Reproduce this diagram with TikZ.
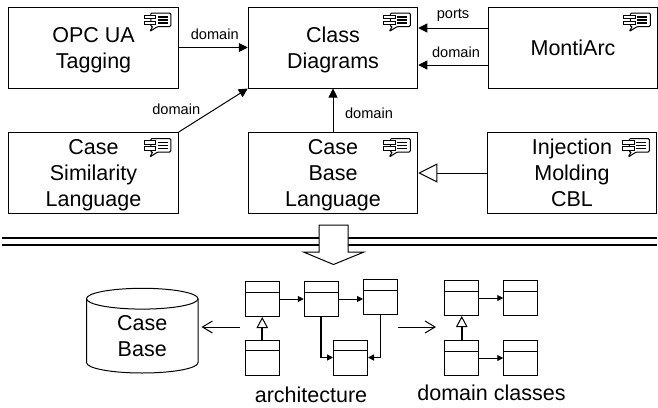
\documentclass[tikz,border=0pt]{standalone}
\usepackage{fontspec}
\setmainfont{Liberation Sans}
\usetikzlibrary{arrows.meta, positioning}
\tikzstyle{langbox} = [rectangle, draw = black, line width=1pt, minimum width = 169.5pt, minimum height = 81pt, inner sep=0pt, align=center, text depth=-4pt, font=\fontsize{21.5}{26}\selectfont]
\tikzstyle{umlbox} = [rectangle, draw = black, line width=1pt, minimum width = 34pt, minimum height = 35pt, inner sep=0pt, path picture={\draw[line width=1pt] ([yshift=-10.5pt]path picture bounding box.north west) -- ([yshift=-10.5pt]path picture bounding box.north east);}]
\tikzstyle{caption} = [inner sep=0pt, align=center, font=\fontsize{21.5}{26}\selectfont]
\tikzstyle{edgelabel} = [inner sep=0pt, font=\fontsize{14.6}{17}\selectfont]
\tikzstyle{arrow} = [-{Stealth[length=9pt,width=9pt,inset=0pt]}, line width=1pt]
\tikzstyle{smallarrow} = [-{Stealth[length=6pt,width=6pt,inset=0pt]}, line width=1pt]
\tikzstyle{boldarrow} = [-{Stealth[length=6pt,width=6pt,inset=0pt]}, line width=1.8pt]
\tikzstyle{inherit} = [-{Triangle[open,length=19pt,width=19pt,fill=white]}, line width=1pt]
\tikzstyle{smallinherit} = [-{Triangle[open,length=11pt,width=11.5pt,fill=white,line width=1pt]}, line width=1.8pt]
\tikzstyle{openarrow} = [-{Straight Barb[length=10pt,width=12pt]}, line width=1pt]
\tikzstyle{rule} = [line width=1.9pt]
\tikzset{noteicon/.pic={
  \draw[line width=1pt, rounded corners=1.2pt, fill=white] (-28,6.5) -- (-8,6.5) -- (-8,20) -- (-21,20) -- (-29,25) -- (-26,20) -- (-28,20) -- cycle;
  \draw[line width=1pt, fill=white] (-34.5,8.5) rectangle (-23,12);
  \draw[line width=1pt, fill=white] (-34.5,14.5) rectangle (-23,18);
  \draw[line width=1.6pt] (-21,10.5) -- (-11,10.5);
  \draw[line width=1.6pt] (-21,13.5) -- (-11,13.5);
  \draw[line width=1.6pt] (-21,16.5) -- (-11,16.5);
}}
\begin{document}
\begin{tikzpicture}[x=1pt, y=-1pt]
  \useasboundingbox (0,0) rectangle (658,407);

  \node[langbox] (opc) at (93.5,47.5) {OPC UA\\Tagging};
  \node[langbox] (class) at (333,47.5) {Class\\Diagrams};
  \node[langbox] (monti) at (573,47.5) {MontiArc};
  \node[langbox] (sim) at (93.5,173) {Case\\Similarity\\Language};
  \node[langbox] (base) at (333,173) {Case\\Base\\Language};
  \node[langbox] (molding) at (572,173) {Injection\\Molding\\CBL};

  \pic at (opc.north east) {noteicon};
  \pic at (class.north east) {noteicon};
  \pic at (monti.north east) {noteicon};
  \pic at (sim.north east) {noteicon};
  \pic at (base.north east) {noteicon};
  \pic at (molding.north east) {noteicon};

  \draw[arrow](opc) -- node[edgelabel,xshift=1.5pt,yshift=13.5pt]{domain}(class);
  \draw[arrow](sim.north east) -- node[edgelabel,xshift=-37pt,yshift=0.5pt]{domain}(class.south west);
  \draw[arrow](base) -- node[edgelabel,xshift=36pt,yshift=-3.5pt]{domain}(class);
  \draw[arrow]([yshift=19.5pt]monti.west) -- node[edgelabel,yshift=13pt]{ports}([yshift=19.5pt]class.east);
  \draw[arrow]([yshift=-17.5pt]monti.west) -- node[edgelabel,xshift=3pt,yshift=13pt]{domain}([yshift=-17.5pt]class.east);
  \draw[inherit](molding) -- (base);

  \coordinate (rule1l) at (2,238);
  \coordinate (rule1r) at (657,238);
  \coordinate (rule2l) at (2,245);
  \coordinate (rule2r) at (657,245);
  \draw[rule](rule1l) -- (rule1r);
  \draw[rule](rule2l) -- (rule2r);
  \draw[line width=1pt, fill=white] (319,225) -- (348,225) -- (348,252) -- (364,252) -- (333.5,264.5) -- (303.5,252) -- (319,252) -- cycle;

  \draw[line width=1pt] (142.25,298.7) ellipse [x radius=55.75pt, y radius=10.4pt];
  \draw[line width=1pt] (86.5,298.7) -- (86.5,362.6) arc [start angle=180, end angle=360, x radius=55.75pt, y radius=10.4pt] -- (198,298.7);
  \node[caption] (cb) at (142.25,336.5) {Case\\Base};

  \node[umlbox] (arch1) at (262.25,299) {};
  \node[umlbox] (arch2) at (321.25,299) {};
  \node[umlbox] (arch3) at (380.5,297) {};
  \node[umlbox] (arch4) at (262.25,357.5) {};
  \node[umlbox] (arch5) at (350.5,357.5) {};

  \node[umlbox] (dom1) at (461.75,298) {};
  \node[umlbox] (dom2) at (520.75,298) {};
  \node[umlbox] (dom3) at (461.75,358) {};
  \node[umlbox] (dom4) at (520.75,358) {};

  \draw[smallarrow](arch1) -- (arch2);
  \draw[smallarrow](arch2.east) -- (arch3.west |- arch2.east);
  \draw[boldarrow](arch2.south) |- (arch5.west);
  \draw[boldarrow](arch3.south) |- (arch5.east);
  \draw[smallinherit](arch4) -- (arch1);
  \draw[smallarrow](dom1) -- (dom2);
  \draw[smallarrow](dom3) -- (dom4);
  \draw[smallinherit](dom3) -- (dom1);

  \coordinate (cbfrom) at (240,327);
  \coordinate (cbto) at (201.5,327);
  \coordinate (domfrom) at (397.5,327);
  \coordinate (domto) at (436,327);
  \draw[openarrow](cbfrom) -- (cbto);
  \draw[openarrow](domfrom) -- (domto);

  \node[caption] (archlabel) at (311,395) {architecture};
  \node[caption] (domlabel) at (491.5,393) {domain classes};
\end{tikzpicture}
\end{document}
